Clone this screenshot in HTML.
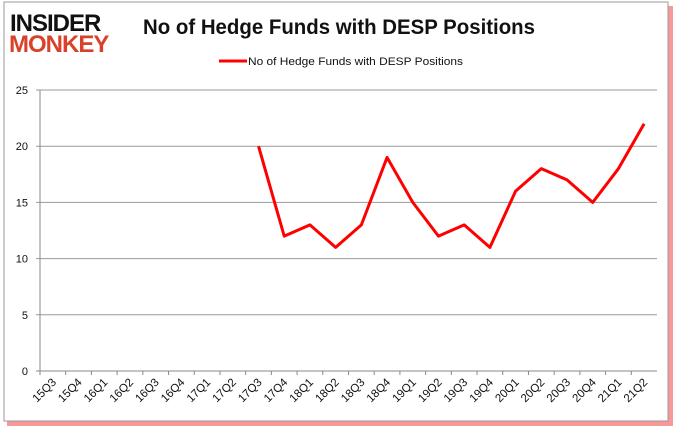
<!DOCTYPE html>
<html><head><meta charset="utf-8"><style>
body{margin:0;background:#fff;width:678px;height:431px;overflow:hidden;font-family:"Liberation Sans",sans-serif}
</style></head><body>
<svg width="678" height="431">
<rect x="7" y="6" width="666" height="420" fill="#e00" opacity="0.4"/>
<rect x="4" y="2" width="664" height="419" fill="#fff" stroke="#999"/>
<text x="10" y="31" font-size="24" font-weight="bold" fill="#111" font-family="Liberation Sans" letter-spacing="-1">INSIDER</text>
<text x="9" y="52" font-size="24" font-weight="bold" fill="#d9412b" font-family="Liberation Sans" letter-spacing="-1">MONKEY</text>
<text x="143" y="34" font-size="21" font-weight="bold" fill="#111" textLength="392" lengthAdjust="spacingAndGlyphs">No of Hedge Funds with DESP Positions</text>
<line x1="219" y1="61" x2="247" y2="61" stroke="red" stroke-width="3"/>
<text x="248" y="65" font-size="11" fill="#111" textLength="215" lengthAdjust="spacingAndGlyphs">No of Hedge Funds with DESP Positions</text>
<g id="axes"></g>
<polyline id="line" fill="none" stroke="red" stroke-width="3" stroke-linejoin="round"/>
</svg>
<script>
const categories=["15Q3","15Q4","16Q1","16Q2","16Q3","16Q4","17Q1","17Q2","17Q3","17Q4","18Q1","18Q2","18Q3","18Q4","19Q1","19Q2","19Q3","19Q4","20Q1","20Q2","20Q3","20Q4","21Q1","21Q2"];
const values=[null,null,null,null,null,null,null,null,20,12,13,11,13,19,15,12,13,11,16,18,17,15,18,22];
const yTicks=[0,5,10,15,20,25];
const L=40,R=657,T=90,B=371,yMax=25;
const band=(R-L)/categories.length;
const x=i=>L+(i+0.5)*band, y=v=>B-(v/yMax)*(B-T);
const g=document.getElementById('axes'),NS='http://www.w3.org/2000/svg';
function mk(t,a){const e=document.createElementNS(NS,t);for(const k in a)e.setAttribute(k,a[k]);g.appendChild(e);return e;}
yTicks.forEach(v=>{
 const l=mk('line',{x1:L-4,x2:R,y1:y(v),y2:y(v),stroke:v===0?'#888':'#999'});
 
 
 const t=mk('text',{x:L-12,y:y(v)+4,'font-size':11,'text-anchor':'end',fill:'#111'});t.textContent=v;
 
 
});
const ax=mk('line',{x1:L,x2:L,y1:T,y2:B,stroke:'#888'});


categories.forEach((c,i)=>{
 const tk=mk('line',{x1:L+i*band,x2:L+i*band,y1:B,y2:B+4,stroke:'#888'});
 
 
 const t=mk('text',{x:x(i)+4,y:B+12,'font-size':11.5,'text-anchor':'end',fill:'#111',transform:`rotate(-45 ${x(i)+4} ${B+12})`});t.textContent=c;
 
 
});
const pts=[];values.forEach((v,i)=>{if(v!==null)pts.push(x(i)+','+y(v));});
document.getElementById('line').setAttribute('points',pts.join(' '));
</script>
</body></html>
